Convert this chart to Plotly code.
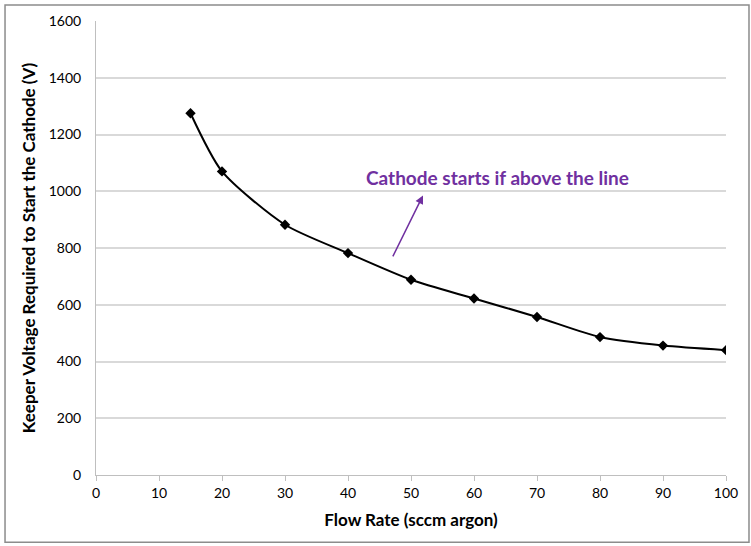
import plotly.graph_objects as go

# Keeper start voltage vs. argon flow rate
flow_rate = [15, 20, 30, 40, 50, 60, 70, 80, 90, 100]
keeper_voltage = [1275, 1070, 882, 782, 688, 622, 557, 486, 456, 440]

x_ticks = list(range(0, 101, 10))
y_ticks = list(range(0, 1601, 200))

note_text = "Cathode starts if above the line"
note_pos = (63.8, 1048)
arrow_tail = (47.0, 765)
arrow_head = (51.9, 985)

FONT = "Lato, 'Open Sans', sans-serif"
PURPLE = "#7030A0"
GRID = "#d9d9d9"

fig = go.Figure()
fig.add_trace(go.Scatter(
    x=flow_rate, y=keeper_voltage,
    mode="lines+markers",
    line=dict(color="black", width=2, shape="spline", smoothing=0.7),
    marker=dict(symbol="diamond", size=8, color="black"),
    showlegend=False,
    hoverinfo="x+y",
))

fig.add_annotation(
    x=note_pos[0], y=note_pos[1], xref="x", yref="y",
    text="<b>" + note_text + "</b>", showarrow=False,
    font=dict(family=FONT, size=19, color=PURPLE),
)
fig.add_annotation(
    x=arrow_head[0], y=arrow_head[1], ax=arrow_tail[0], ay=arrow_tail[1],
    xref="x", yref="y", axref="x", ayref="y",
    text="", showarrow=True, arrowhead=2, arrowsize=1.1, arrowwidth=1.5,
    arrowcolor=PURPLE,
)

# Outer chart-area border
fig.add_shape(
    type="rect", xref="paper", yref="paper",
    x0=-0.1444, x1=1.0365, y0=-0.148, y1=1.035,
    line=dict(color="#8c8c8c", width=1.5), fillcolor="rgba(0,0,0,0)",
)

fig.update_layout(
    width=751, height=546,
    margin=dict(l=96, r=25, t=13, b=71),
    paper_bgcolor="white", plot_bgcolor="white",
    font=dict(family=FONT, color="black", size=14),
)
fig.update_xaxes(
    range=[0, 100], tickvals=x_ticks, ticks="outside", ticklen=5,
    tickcolor="#bfbfbf", showline=True, linecolor="#bfbfbf", linewidth=1,
    showgrid=False, zeroline=False,
    tickfont=dict(family=FONT, size=14),
    title=dict(text="<b>Flow Rate (sccm argon)</b>", font=dict(family=FONT, size=17), standoff=14),
)
fig.update_yaxes(
    range=[0, 1600], tickvals=y_ticks, ticks="outside", ticklen=11,
    tickcolor="rgba(0,0,0,0)", showline=True, linecolor="#bfbfbf", linewidth=1,
    showgrid=True, gridcolor=GRID, gridwidth=1.5, zeroline=False,
    tickfont=dict(family=FONT, size=14),
    title=dict(text="<b>Keeper Voltage Required to Start the Cathode (V)</b>",
               font=dict(family=FONT, size=17), standoff=8),
)

fig.write_html("out.html")
